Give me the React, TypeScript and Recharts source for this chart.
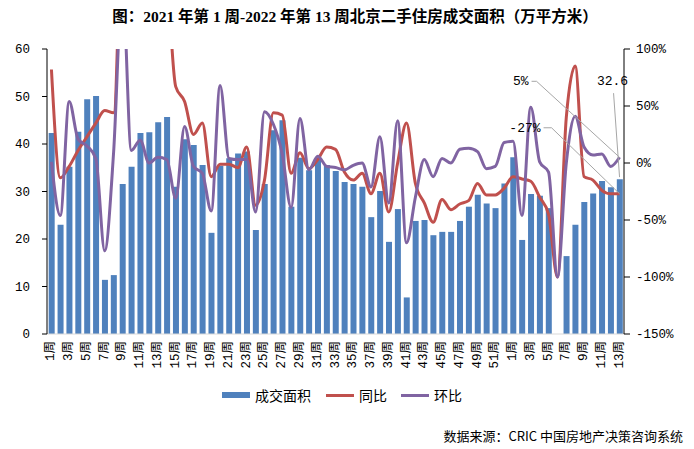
import React from 'react';
import { ComposedChart, Bar, Line, XAxis, YAxis, LabelList } from 'recharts';

const weeks2021 = [
  '1周', '2周', '3周', '4周', '5周', '6周', '7周', '8周', '9周', '10周',
  '11周', '12周', '13周', '14周', '15周', '16周', '17周', '18周', '19周', '20周',
  '21周', '22周', '23周', '24周', '25周', '26周', '27周', '28周', '29周', '30周',
  '31周', '32周', '33周', '34周', '35周', '36周', '37周', '38周', '39周', '40周',
  '41周', '42周', '43周', '44周', '45周', '46周', '47周', '48周', '49周', '50周',
  '51周', '52周',
];
const weeks2022 = ['1周', '2周', '3周', '4周', '5周', '6周', '7周', '8周', '9周', '10周', '11周', '12周', '13周'];

// 成交面积（万平方米）
const area2021 = [
  42.3, 23.0, 35.2, 42.6, 49.4, 50.1, 11.4, 12.4, 31.6, 35.2,
  42.3, 42.5, 44.6, 45.7, 31.0, 41.0, 39.8, 35.6, 21.3, 35.4,
  37.0, 38.0, 38.4, 21.9, 31.6, 42.9, 45.0, 26.8, 37.1, 34.5,
  37.0, 35.6, 34.3, 32.0, 31.6, 31.0, 24.6, 30.1, 19.4, 26.3,
  7.7, 23.8, 24.0, 20.8, 21.5, 21.5, 23.8, 26.8, 29.3, 27.5,
  26.5, 31.7,
];
const area2022 = [37.2, 19.8, 29.5, 29.1, 26.5, 0, 16.4, 23.0, 27.8, 29.6, 32.2, 30.9, 32.6];

// 同比（%）
const yoy2021 = [
  82, -13, -3, 11, 23, 35, 46, 44, 250, 450,
  550, 500, 350, 180, 67, 54, 25, 35, -12, -1,
  -1, -4, 14, -37, -15, 44, 42, -9, 9, -5,
  3, 14, 12, -8, -15, -9, -27, -9, -43, 0,
  35, -18, -35, -52, -32, -41, -36, -33, -18, -28,
  -28, -22,
];
const yoy2022 = [-12, -14, -16, -30, -45, -100, 40, 85, -12, -15, -24, -27, -27];

// 环比（%）
const wow2021 = [
  1, -46, 54, 21, 15, 4, -77, 9, 155, 11,
  20, 0, 5, 3, -31, 32, -3, -9, -42, 68,
  4, 3, 3, -43, 45, 34, 8, -39, 39, -6,
  6, -3, -4, -6, -2, 0, -21, 23, -35, 37,
  -70, -30, 3, -12, 4, 0, 12, 13, 10, -5,
  -3, 18,
];
const wow2022 = [19, -46, 49, 1, -8, -100, 0, 41, 14, 7, 8, -3, 5];

const leftTicks = [0, 10, 20, 30, 40, 50, 60];
const rightTicks = [-150, -100, -50, 0, 50, 100];

const title = '图：2021 年第 1 周-2022 年第 13 周北京二手住房成交面积（万平方米）';
const source = '数据来源：CRIC 中国房地产决策咨询系统';
const legendItems = [
  { name: '成交面积', color: '#4F81BD', kind: 'bar' },
  { name: '同比', color: '#C0504D', kind: 'line' },
  { name: '环比', color: '#8064A2', kind: 'line' },
];

const data = [
  ...weeks2021.map((w, i) => ({ key: `2021-${w}`, label: w, area: area2021[i], yoy: yoy2021[i], wow: wow2021[i] })),
  ...weeks2022.map((w, i) => ({ key: `2022-${w}`, label: w, area: area2022[i], yoy: yoy2022[i], wow: wow2022[i] })),
];
const labelByKey: Record<string, string> = {};
data.forEach((d) => { labelByKey[d.key] = d.label; });
const lastIndex = data.length - 1;

const MONO = '"Liberation Mono", "Noto Sans CJK SC", monospace';
const CJK = '"Noto Sans CJK SC", "Noto Sans", sans-serif';
const LEADER = '#A6A6A6';

const XTick = (props: any) => {
  const { x, y, payload } = props;
  return (
    <text
      transform={`translate(${x},${y}) rotate(-90)`}
      textAnchor="end"
      dominantBaseline="central"
      fontSize={12.5}
      fontFamily={MONO}
      fill="#000"
    >
      {labelByKey[payload.value]}
    </text>
  );
};

const getPoint = (props: any) => {
  const vb = props.viewBox || {};
  const x = props.x ?? vb.x;
  const y = props.y ?? vb.y;
  return { x: Number(x), y: Number(y) };
};

const WowLabel = (props: any) => {
  if (props.index !== lastIndex) return null;
  const { x, y } = getPoint(props);
  return (
    <g>
      <polyline points={`${x},${y} ${x - 83},${y - 76} ${x - 88},${y - 76}`} fill="none" stroke={LEADER} strokeWidth={1} />
      <text x={x - 91} y={y - 76} textAnchor="end" dominantBaseline="central" fontSize={13} fontFamily={MONO} fill="#000">
        {`${props.value}%`}
      </text>
    </g>
  );
};

const YoyLabel = (props: any) => {
  if (props.index !== lastIndex) return null;
  const { x, y } = getPoint(props);
  return (
    <g>
      <polyline points={`${x},${y} ${x - 68},${y - 66} ${x - 76},${y - 66}`} fill="none" stroke={LEADER} strokeWidth={1} />
      <text x={x - 79} y={y - 65} textAnchor="end" dominantBaseline="central" fontSize={13} fontFamily={MONO} fill="#000">
        {`${props.value}%`}
      </text>
    </g>
  );
};

const AreaLabel = (props: any) => {
  if (props.index !== lastIndex) return null;
  const { x, y } = getPoint(props);
  return (
    <g>
      <line x1={x} y1={y - 2} x2={x - 6} y2={y - 86} stroke={LEADER} strokeWidth={1} />
      <text x={x - 7} y={y - 98} textAnchor="middle" dominantBaseline="central" fontSize={13} fontFamily={MONO} fill="#000">
        {String(props.value)}
      </text>
    </g>
  );
};

export default function App() {
  return (
    <div style={{ position: 'relative', width: 694, height: 449, background: '#fff', overflow: 'hidden' }}>
      <style>{'body{margin:0;}'}</style>
      <div
        style={{
          position: 'absolute', left: 0, top: 7, width: 710, textAlign: 'center',
          fontFamily: '"Liberation Serif", "Noto Sans CJK SC", serif', fontWeight: 'bold', fontSize: 15.5, lineHeight: '20px', color: '#000',
        }}
      >
        {title}
      </div>
      <ComposedChart
        width={694}
        height={449}
        data={data}
        margin={{ top: 49, right: 10, bottom: 75, left: 7 }}
        barCategoryGap="19%"
      >
        <XAxis
          dataKey="key"
          height={40}
          interval={1}
          tickLine={false}
          tickMargin={1}
          axisLine={{ stroke: '#D9D9D9' }}
          tick={<XTick />}
        />
        <YAxis
          yAxisId="left"
          orientation="left"
          width={40}
          domain={[0, 60]}
          ticks={leftTicks}
          tickSize={5}
          tickMargin={12}
          axisLine={{ stroke: '#000' }}
          tickLine={{ stroke: '#000' }}
          tick={{ fontSize: 12.5, fontFamily: MONO, fill: '#000' }}
          allowDataOverflow
        />
        <YAxis
          yAxisId="right"
          orientation="right"
          width={60}
          domain={[-150, 100]}
          ticks={rightTicks}
          tickSize={6}
          tickMargin={6}
          axisLine={{ stroke: '#000' }}
          tickLine={{ stroke: '#000' }}
          tickFormatter={(v: number) => `${v}%`}
          tick={{ fontSize: 12.5, fontFamily: MONO, fill: '#000' }}
          allowDataOverflow
        />
        <Bar yAxisId="left" dataKey="area" fill="#4F81BD" isAnimationActive={false} />
        <Line
          yAxisId="right"
          dataKey="yoy"
          type="monotone"
          stroke="#C0504D"
          strokeWidth={3}
          dot={false}
          activeDot={false}
          isAnimationActive={false}
        >
          <LabelList dataKey="yoy" content={<YoyLabel />} />
        </Line>
        <Line
          yAxisId="right"
          dataKey="wow"
          type="monotone"
          stroke="#8064A2"
          strokeWidth={3}
          dot={false}
          activeDot={false}
          isAnimationActive={false}
        >
          <LabelList dataKey="wow" content={<WowLabel />} />
        </Line>
        <Line
          yAxisId="left"
          dataKey="area"
          type="linear"
          stroke="none"
          strokeWidth={0}
          dot={false}
          activeDot={false}
          legendType="none"
          isAnimationActive={false}
        >
          <LabelList dataKey="area" content={<AreaLabel />} />
        </Line>
      </ComposedChart>
      <div style={{ position: 'absolute', left: 222, top: 385, height: 20, display: 'flex', alignItems: 'center', fontFamily: CJK, fontSize: 14, color: '#000' }}>
        {legendItems.map((it, i) => (
          <div key={it.name} style={{ display: 'flex', alignItems: 'center', marginRight: i === 0 ? 15 : 14 }}>
            <div style={{ width: 28, height: it.kind === 'bar' ? 6 : 3, background: it.color, marginRight: 5 }} />
            <span>{it.name}</span>
          </div>
        ))}
      </div>
      <div style={{ position: 'absolute', right: 11, top: 426, fontFamily: CJK, fontSize: 13, lineHeight: '20px', color: '#000' }}>
        {source}
      </div>
    </div>
  );
}
